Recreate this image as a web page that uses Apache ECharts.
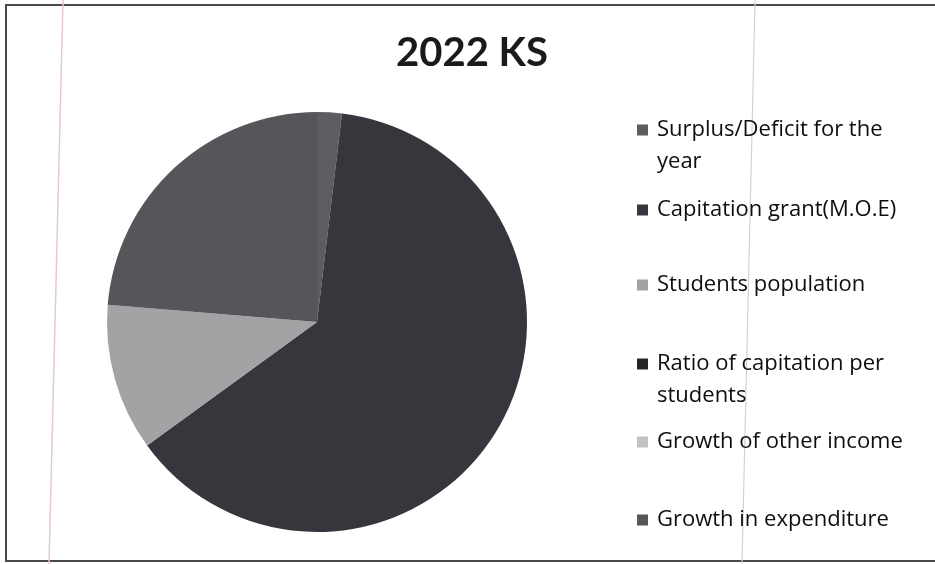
<!DOCTYPE html>
<html>
<head>
<meta charset="utf-8">
<style>
  html, body { margin: 0; padding: 0; background: #ffffff; }
  #chart { width: 935px; height: 564px; }
</style>
<script src="https://cdn.jsdelivr.net/npm/echarts@6/dist/echarts.min.js"></script>
</head>
<body>
<div id="chart"></div>
<script>
// Budget indicators for 2022 (share of the whole, %)
const categories = [
  'Surplus/Deficit for the year',
  'Capitation grant(M.O.E)',
  'Students population',
  'Ratio of capitation per students',
  'Growth of other income',
  'Growth in expenditure'
];
const values = [1.9, 63.1, 11.3, 0, 0, 23.7];
const sliceColors = ['#5c5c61', '#36363c', '#a3a3a6', '#252528', '#c2c2c4', '#55555a'];
// Legend labels, wrapped where the line is too long
const legendLabels = [
  'Surplus/Deficit for the\nyear',
  'Capitation grant(M.O.E)',
  'Students population',
  'Ratio of capitation per\nstudents',
  'Growth of other income',
  'Growth in expenditure'
];
const LINE_H = 32;
const MARK = 11;
// vertical centre of each legend entry's first line
const legendRows = [130, 210, 285, 364, 442, 520];

// Square marker placed beside the first line of a two-line entry
const y0 = LINE_H / 2 - MARK / 2;
const y1 = LINE_H / 2 + MARK / 2;
const topSquareIcon = 'path://M0,0L0,0M0,' + y0 + 'L' + MARK + ',' + y0 + 'L' + MARK + ',' + y1 +
  'L0,' + y1 + 'ZM0,' + (LINE_H * 2) + 'L0,' + (LINE_H * 2);

const chart = echarts.init(document.getElementById('chart'));

const legends = categories.map((name, i) => {
  const twoLines = legendLabels[i].indexOf('\n') >= 0;
  return {
    data: [name],
    left: 637,
    top: legendRows[i] - LINE_H / 2,
    orient: 'vertical',
    icon: twoLines ? topSquareIcon : 'rect',
    itemWidth: MARK,
    itemHeight: twoLines ? LINE_H * 2 : MARK,
    itemGap: 0,
    padding: 0,
    selectedMode: false,
    formatter: () => legendLabels[i],
    textStyle: {
      fontFamily: 'Open Sans',
      fontSize: 22,
      color: '#0e0e0e',
      lineHeight: LINE_H,
      padding: [0, 0, 0, 4]
    }
  };
});

chart.setOption({
  animation: false,
  backgroundColor: '#ffffff',
  title: {
    text: '2022 KS',
    left: 467,
    top: 28,
    textAlign: 'center',
    textStyle: {
      fontFamily: 'Lato',
      fontWeight: 'bold',
      fontSize: 40,
      color: '#1a1a1a'
    }
  },
  legend: legends,
  graphic: [
    // outer frame of the chart area
    {
      type: 'rect',
      shape: { x: 6, y: 5, width: 940, height: 556 },
      style: { fill: 'none', stroke: '#4a4a4a', lineWidth: 2 },
      silent: true
    },
    {
      type: 'line',
      shape: { x1: 63, y1: 0, x2: 49, y2: 564 },
      style: { stroke: '#e6c9cf', lineWidth: 1.5 },
      silent: true
    },
    {
      type: 'line',
      shape: { x1: 755, y1: 0, x2: 742, y2: 564 },
      style: { stroke: '#d2d2d6', lineWidth: 1.2 },
      silent: true
    }
  ],
  series: [{
    type: 'pie',
    center: [317, 322],
    radius: [0, 210],
    startAngle: 90,
    clockwise: true,
    label: { show: false },
    labelLine: { show: false },
    emphasis: { disabled: true },
    itemStyle: { borderWidth: 0 },
    data: categories.map((name, i) => ({
      name: name,
      value: values[i],
      itemStyle: { color: sliceColors[i] }
    }))
  }]
});
</script>
</body>
</html>
